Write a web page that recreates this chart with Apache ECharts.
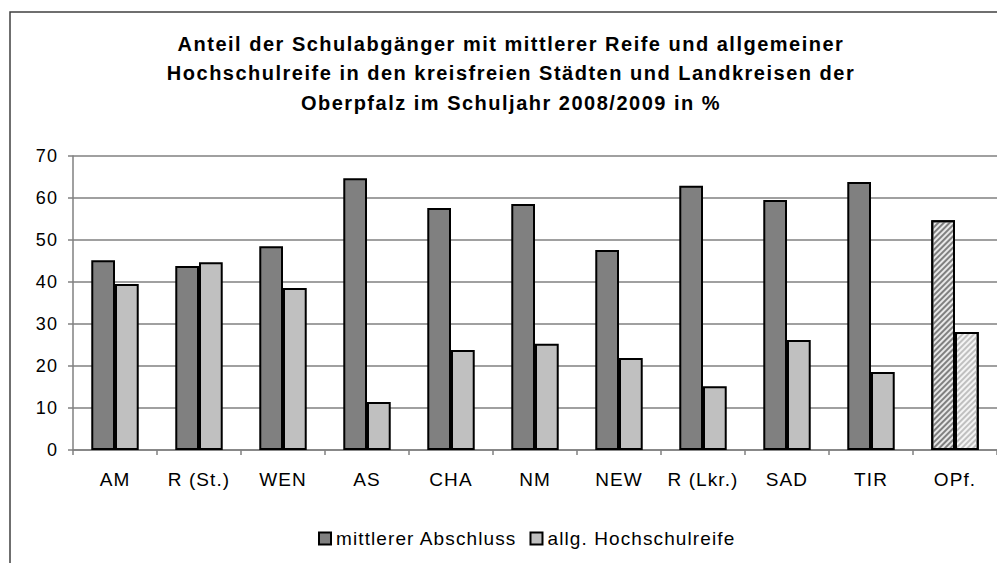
<!DOCTYPE html>
<html>
<head>
<meta charset="utf-8">
<script src="https://cdn.jsdelivr.net/npm/echarts@6/dist/echarts.min.js"></script>
<style>
html,body{margin:0;padding:0;background:#fff;}
#chart{width:997px;height:563px;}
#chart text{letter-spacing:1.1px;}
#chart text[style*="bold"]{letter-spacing:1.5px;}
</style>
</head>
<body>
<div id="chart"></div>
<script>
const titleLines = [
  'Anteil der Schulabgänger mit mittlerer Reife und allgemeiner',
  'Hochschulreife in den kreisfreien Städten und Landkreisen der',
  'Oberpfalz im Schuljahr 2008/2009 in %'
];
const categories = ['AM', 'R (St.)', 'WEN', 'AS', 'CHA', 'NM', 'NEW', 'R (Lkr.)', 'SAD', 'TIR', 'OPf.'];
const seriesNames = ['mittlerer Abschluss', 'allg. Hochschulreife'];
const mittlererAbschluss = [45.2, 43.8, 48.5, 64.7, 57.6, 58.6, 47.6, 62.9, 59.5, 63.8, 54.7];
const allgHochschulreife = [39.5, 44.7, 38.6, 11.4, 23.8, 25.3, 21.9, 15.2, 26.2, 18.6, 28.1];
const yTicks = [0, 10, 20, 30, 40, 50, 60, 70];
const hatchedCategory = 'OPf.';

const FONT = 'Liberation Sans, Arial, sans-serif';

function buildData(values, stripe, bg) {
  return values.map((v, i) => {
    if (categories[i] === hatchedCategory) {
      return {
        value: v,
        itemStyle: {
          color: bg,
          decal: {
            symbol: 'rect',
            symbolSize: 1,
            dashArrayX: [1, 0],
            dashArrayY: [2, 2],
            rotation: -Math.PI / 4,
            color: stripe
          }
        }
      };
    }
    return v;
  });
}

const chart = echarts.init(document.getElementById('chart'), null, {renderer: 'svg'});
chart.setOption({
  backgroundColor: '#ffffff',
  animation: false,
  graphic: [
    {
      type: 'rect',
      shape: {x: 10, y: 12, width: 1100, height: 700},
      style: {fill: 'none', stroke: '#404040', lineWidth: 1.5},
      silent: true,
      z: 0
    },
    {
      type: 'text',
      x: 511,
      y: 29,
      style: {
        text: titleLines.join('\n'),
        font: 'bold 20px ' + FONT,
        textAlign: 'center',
        lineHeight: 29.5,
        fill: '#000000'
      },
      z: 10
    }
  ],
  grid: {left: 73, top: 156, width: 936, height: 294, containLabel: false},
  legend: {
    data: seriesNames,
    left: 313,
    top: 524,
    itemWidth: 12,
    itemHeight: 12,
    itemGap: 33,
    icon: 'rect',
    textStyle: {fontFamily: FONT, fontSize: 19, color: '#000000'}
  },
  xAxis: {
    type: 'category',
    data: categories,
    axisLine: {lineStyle: {color: '#808080', width: 1.5}},
    axisTick: {show: true, length: 5, lineStyle: {color: '#808080', width: 1.5}},
    axisLabel: {fontFamily: FONT, fontSize: 19, color: '#000000', margin: 20},
    splitLine: {show: false}
  },
  yAxis: {
    type: 'value',
    min: yTicks[0],
    max: yTicks[yTicks.length - 1],
    interval: 10,
    axisLine: {show: true, lineStyle: {color: '#808080', width: 1.5}},
    axisTick: {show: true, length: 5, lineStyle: {color: '#808080', width: 1.5}},
    axisLabel: {fontFamily: FONT, fontSize: 18, color: '#000000', margin: 15},
    splitLine: {show: true, lineStyle: {color: '#808080', width: 1.5}}
  },
  series: [
    {
      name: seriesNames[0],
      type: 'bar',
      data: buildData(mittlererAbschluss, '#808080', '#e8e8e8'),
      barGap: '0%',
      barCategoryGap: '43.5%',
      itemStyle: {color: '#808080', borderColor: '#000000', borderWidth: 2}
    },
    {
      name: seriesNames[1],
      type: 'bar',
      data: buildData(allgHochschulreife, '#c0c0c0', '#f4f4f4'),
      barGap: '0%',
      barCategoryGap: '43.5%',
      itemStyle: {color: '#c0c0c0', borderColor: '#000000', borderWidth: 2}
    }
  ]
});
</script>
</body>
</html>
